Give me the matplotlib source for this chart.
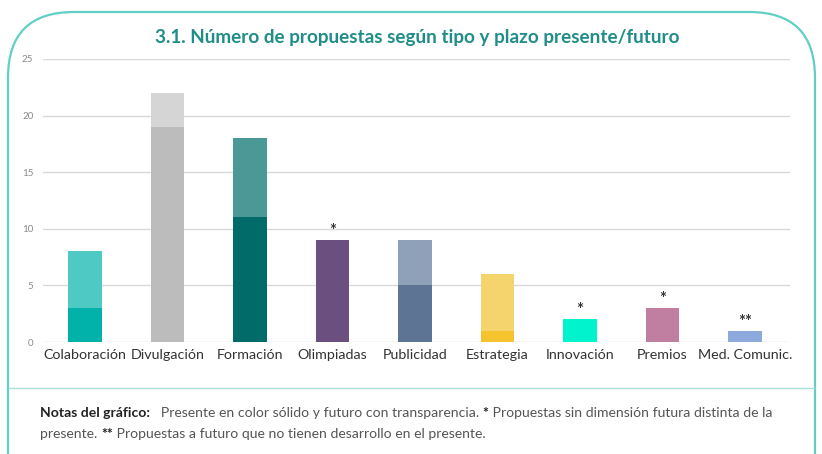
import numpy as np
import matplotlib
matplotlib.use('Agg')
import matplotlib.pyplot as plt
from matplotlib.patches import FancyBboxPatch
from matplotlib.lines import Line2D

plt.rcParams['font.family'] = ['Lato', 'DejaVu Sans']

categorias = ['Colaboración', 'Divulgación', 'Formación', 'Olimpiadas', 'Publicidad',
              'Estrategia', 'Innovación', 'Premios', 'Med. Comunic.']
presente = [3, 19, 11, 9, 5, 1, 2, 3, 0]
futuro = [8, 22, 18, 9, 9, 6, 2, 3, 1]
marcas = ['', '', '', '*', '', '', '*', '*', '**']
col_solido = ['#00b2aa', '#bcbcbc', '#006b69', '#6a4f7f', '#5e7494',
              '#f4c32e', '#00f3cc', '#c07fa1', '#8eaadc']
col_futuro = ['#4fc9c4', '#d5d5d5', '#4a9996', '#6a4f7f', '#8ea1b8',
              '#f6d46d', '#00f3cc', '#c07fa1', '#8eaadc']
yticks = [0, 5, 10, 15, 20, 25]

W, H = 822, 454
fig = plt.figure(figsize=(W / 100, H / 100), dpi=100)

# frame around chart
box = FancyBboxPatch((8 / W, -0.2), 807 / W, (H - 12) / H + 0.2,
                     boxstyle='round,pad=0,rounding_size=0.08',
                     transform=fig.transFigure, fill=False,
                     edgecolor='#62cfc5', linewidth=1.6, mutation_aspect=W / H)
fig.patches.append(box)
fig.lines.append(Line2D([9 / W, 814 / W], [1 - 388 / H, 1 - 388 / H],
                        transform=fig.transFigure, color='#a9e0da', lw=1))

ax = fig.add_axes([43 / W, 1 - 342 / H, 747 / W, 283 / H])
x = np.arange(len(categorias))
ancho = 0.41
ax.bar(x, futuro, width=ancho, color=col_futuro, zorder=2)
ax.bar(x, presente, width=ancho, color=col_solido, zorder=3)
for i, m in enumerate(marcas):
    if m:
        ax.text(x[i], futuro[i] + 0.1, m, ha='center', va='bottom',
                fontsize=12, color='#333333', fontweight='bold')

ax.set_xlim(-0.509, 8.546)
ax.set_ylim(0, 25)
ax.set_yticks(yticks)
ax.yaxis.grid(True, color='#d9d9d9', lw=1, zorder=0)
ax.set_axisbelow(True)
for s in ax.spines.values():
    s.set_visible(False)
ax.tick_params(axis='y', length=0, labelsize=7, labelcolor='#8a8a8a', pad=7)
ax.tick_params(axis='x', length=0, labelsize=10.3, labelcolor='#333333', pad=5)
ax.set_xticks(x)
ax.set_xticklabels(categorias)

fig.text(417 / W, 1 - 37 / H, '3.1. Número de propuestas según tipo y plazo presente/futuro',
         ha='center', va='center', fontsize=13.6, fontweight='bold', color='#1f8d88')

# notes with mixed bold/normal runs
renderer = fig.canvas.get_renderer()


def runs(x0, y0, partes):
    xx = x0
    for txt, bold in partes:
        t = fig.text(xx / W, 1 - y0 / H, txt, ha='left', va='center', fontsize=10.1,
                     color='#222222' if bold else '#555555',
                     fontweight='bold' if bold else 'normal')
        bb = t.get_window_extent(renderer=renderer)
        xx += bb.width


runs(40, 413, [('Notas del gráfico:', True),
               ('   Presente en color sólido y futuro con transparencia. ', False),
               ('*', True),
               (' Propuestas sin dimensión futura distinta de la', False)])
runs(40, 434, [('presente. ', False), ('**', True),
               (' Propuestas a futuro que no tienen desarrollo en el presente.', False)])

fig.savefig('out.png', dpi=100)
